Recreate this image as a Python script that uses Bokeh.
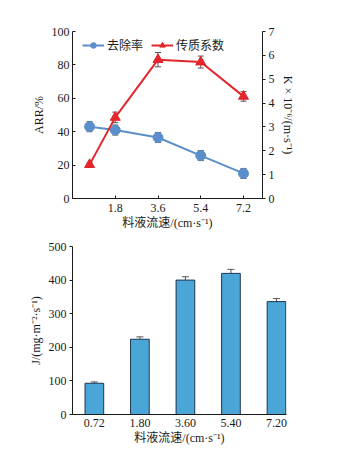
from bokeh.plotting import figure
from bokeh.models import (Range1d, LinearAxis, FixedTicker, Whisker, ColumnDataSource,
                          Legend, LegendItem, TeeHead)
from bokeh.layouts import column
from bokeh.embed import file_html
from bokeh.resources import INLINE

# ---- data ----
flow = [0.72, 1.8, 3.6, 5.4, 7.2]
x_ticks_top = [1.8, 3.6, 5.4, 7.2]
removal = [43, 41, 36.5, 25.7, 15]
removal_err = [3, 3, 3, 3, 3]
k_coef = [1.42, 3.4, 5.82, 5.72, 4.28]
k_err = [0.08, 0.22, 0.3, 0.25, 0.2]
flux_labels = ["0.72", "1.80", "3.60", "5.40", "7.20"]
flux = [93, 224, 400, 420, 336]
flux_err = [4, 7, 10, 12, 9]

SERIF = "Liberation Serif, Noto Sans CJK SC"
CJK = "Liberation Serif, Noto Sans CJK SC"
BLUE = "#5b8fcb"
RED = "#e3262b"
BAR = "#4aa6d6"
INK = "#1a1a1a"

def style_axis(ax, fs="12px"):
    ax.major_label_text_font = SERIF
    ax.major_label_text_font_size = fs
    ax.major_label_text_color = INK
    ax.axis_label_text_font = CJK
    ax.axis_label_text_font_size = "12px"
    ax.axis_label_text_color = INK
    ax.axis_label_text_font_style = "normal"
    ax.minor_tick_line_color = None
    ax.axis_line_color = INK
    ax.major_tick_line_color = INK
    ax.major_label_standoff = 3
    ax.axis_label_standoff = 3

# ---- top chart ----
p1 = figure(frame_width=190, frame_height=167, output_backend="svg", toolbar_location=None,
            x_range=Range1d(0, 8), y_range=Range1d(0, 100),
            min_border_left=66, min_border_right=50, min_border_top=31, min_border_bottom=30)
p1.outline_line_color = None
p1.grid.visible = False
p1.extra_y_ranges = {"k": Range1d(0, 7)}

p1.xaxis.ticker = FixedTicker(ticks=x_ticks_top)
p1.xaxis.axis_label = "料液流速/(cm·s⁻¹)"
p1.yaxis.ticker = FixedTicker(ticks=[0, 20, 40, 60, 80, 100])
p1.yaxis.axis_label = "ARR/%"
style_axis(p1.xaxis[0])
style_axis(p1.yaxis[0])
p1.xaxis.major_tick_in = 3
p1.xaxis.major_tick_out = 0
p1.yaxis.major_tick_in = 3
p1.yaxis.major_tick_out = 0
p1.xaxis.major_label_standoff = 5
p1.xaxis.axis_label_standoff = 1

rax = LinearAxis(y_range_name="k", ticker=FixedTicker(ticks=[0, 1, 2, 3, 4, 5, 6, 7]),
                 axis_label="K × 10⁻⁶/(m·s⁻¹)")
style_axis(rax)
rax.major_tick_in = 0
rax.major_tick_out = 3
p1.add_layout(rax, "right")

src_r = ColumnDataSource(dict(x=flow, y=removal,
                              lo=[v - e for v, e in zip(removal, removal_err)],
                              hi=[v + e for v, e in zip(removal, removal_err)]))
src_k = ColumnDataSource(dict(x=flow, y=k_coef,
                              lo=[v - e for v, e in zip(k_coef, k_err)],
                              hi=[v + e for v, e in zip(k_coef, k_err)]))

lr = p1.line("x", "y", source=src_r, color=BLUE, line_width=2)
mr = p1.scatter("x", "y", source=src_r, marker="circle", size=10, color=BLUE)
p1.add_layout(Whisker(source=src_r, base="x", lower="lo", upper="hi", line_color="#555555",
                      upper_head=TeeHead(size=6, line_color="#555555"),
                      lower_head=TeeHead(size=6, line_color="#555555")))

lk = p1.line("x", "y", source=src_k, color=RED, line_width=2, y_range_name="k")
mk = p1.scatter("x", "y", source=src_k, marker="triangle", size=10, color=RED, y_range_name="k")
p1.add_layout(Whisker(source=src_k, base="x", lower="lo", upper="hi", line_color="#555555",
                      y_range_name="k",
                      upper_head=TeeHead(size=6, line_color="#555555"),
                      lower_head=TeeHead(size=6, line_color="#555555")))

legend = Legend(items=[LegendItem(label="去除率", renderers=[lr, mr]),
                       LegendItem(label="传质系数", renderers=[lk, mk])],
                orientation="horizontal", location=(10, 145), margin=0, padding=4,
                spacing=8, label_standoff=3, glyph_width=22, glyph_height=14,
                border_line_color=None, background_fill_alpha=0,
                label_text_font="Noto Sans CJK SC", label_text_font_size="12px",
                label_text_color=INK)
p1.add_layout(legend)

# ---- bottom chart ----
idx = list(range(len(flux_labels)))
p2 = figure(frame_width=214, frame_height=168, output_backend="svg", toolbar_location=None,
            x_range=Range1d(-0.48, len(flux_labels) - 0.78), y_range=Range1d(0, 500),
            min_border_left=72, min_border_right=22, min_border_top=14, min_border_bottom=36)
p2.outline_line_color = None
p2.grid.visible = False
src_f = ColumnDataSource(dict(x=idx, y=flux,
                              lo=[v - e for v, e in zip(flux, flux_err)],
                              hi=[v + e for v, e in zip(flux, flux_err)]))
p2.vbar(x="x", top="y", width=0.41, source=src_f, fill_color=BAR, line_color="#1d3550", line_width=1)
p2.add_layout(Whisker(source=src_f, base="x", lower="lo", upper="hi", line_color="#555555",
                      upper_head=TeeHead(size=7, line_color="#555555"),
                      lower_head=TeeHead(size=7, line_color="#555555")))
p2.xaxis.ticker = FixedTicker(ticks=idx)
p2.xaxis.major_label_overrides = {i: s for i, s in zip(idx, flux_labels)}
p2.xaxis.axis_label = "料液流速/(cm·s⁻¹)"
p2.yaxis.ticker = FixedTicker(ticks=[0, 100, 200, 300, 400, 500])
p2.yaxis.axis_label = "J/(mg·m⁻²·s⁻¹)"
style_axis(p2.xaxis[0])
style_axis(p2.yaxis[0])
p2.xaxis.major_tick_in = 0
p2.xaxis.major_tick_out = 0
p2.yaxis.major_tick_in = 0
p2.yaxis.major_tick_out = 3
p2.xaxis.axis_label_standoff = 1
p2.xaxis.major_label_standoff = 4

layout = column(p1, p2, spacing=0)
open("out.html", "w").write(file_html(layout, INLINE))
